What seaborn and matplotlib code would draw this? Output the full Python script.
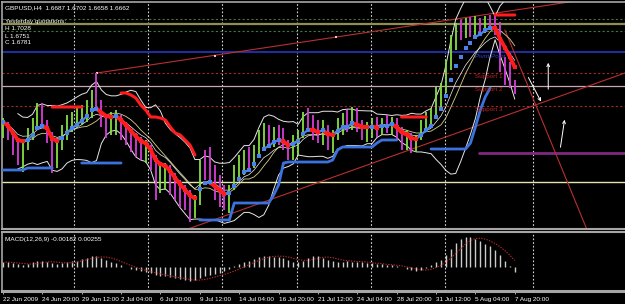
import numpy as np
import pandas as pd
import matplotlib
matplotlib.use("Agg")
import matplotlib.pyplot as plt
import seaborn as sns

N_ = np.nan

# ---------------- data ----------------
tick_labels = ["22 Jun 2009", "24 Jun 20:00", "29 Jun 12:00", "2 Jul 04:00", "6 Jul 20:00",
               "9 Jul 12:00", "14 Jul 04:00", "16 Jul 20:00", "21 Jul 12:00", "24 Jul 04:00",
               "28 Jul 20:00", "31 Jul 12:00", "5 Aug 04:00", "7 Aug 20:00"]
tick_bars = [0, 8, 16, 24, 32, 40, 48, 56, 64, 72, 80, 88, 96, 104]

first_open = 1.6450
bar_high = [1.6540, 1.6520, 1.6465, 1.6430, 1.6420, 1.6490, 1.6540, 1.6615, 1.6615, 1.6530,
            1.6470, 1.6430, 1.6505, 1.6555, 1.6570, 1.6590, 1.6605, 1.6630, 1.6680, 1.6765,
            1.6630, 1.6555, 1.6570, 1.6580, 1.6555, 1.6520, 1.6480, 1.6465, 1.6445, 1.6430,
            1.6405, 1.6355, 1.6305, 1.6315, 1.6305, 1.6265, 1.6230, 1.6205, 1.6180, 1.6155,
            1.6330, 1.6380, 1.6395, 1.6305, 1.6255, 1.6205, 1.6205, 1.6305, 1.6355, 1.6380,
            1.6395, 1.6405, 1.6480, 1.6515, 1.6505, 1.6495, 1.6505, 1.6490, 1.6430, 1.6455,
            1.6480, 1.6570, 1.6590, 1.6555, 1.6530, 1.6530, 1.6505, 1.6480, 1.6540, 1.6565,
            1.6580, 1.6595, 1.6590, 1.6530, 1.6520, 1.6540, 1.6545, 1.6540, 1.6555, 1.6545,
            1.6540, 1.6495, 1.6480, 1.6465, 1.6455, 1.6530, 1.6570, 1.6590, 1.6695, 1.6715,
            1.6830, 1.6955, 1.7015, 1.7030, 1.7040, 1.7045, 1.7050, 1.7040, 1.7050, 1.7055,
            1.7050, 1.7020, 1.6845, 1.6820, 1.6730]
bar_low = [1.6440, 1.6430, 1.6355, 1.6305, 1.6270, 1.6380, 1.6430, 1.6480, 1.6490, 1.6415,
           1.6265, 1.6290, 1.6380, 1.6430, 1.6470, 1.6490, 1.6505, 1.6520, 1.6540, 1.6580,
           1.6495, 1.6440, 1.6455, 1.6455, 1.6430, 1.6405, 1.6370, 1.6345, 1.6330, 1.6315,
           1.6280, 1.6130, 1.6165, 1.6180, 1.6155, 1.6130, 1.6095, 1.6080, 1.6020, 1.6040,
           1.6105, 1.6230, 1.6205, 1.6130, 1.6095, 1.6080, 1.6065, 1.6180, 1.6230, 1.6255,
           1.6280, 1.6290, 1.6355, 1.6380, 1.6390, 1.6395, 1.6405, 1.6380, 1.6330, 1.6330,
           1.6355, 1.6440, 1.6480, 1.6430, 1.6415, 1.6405, 1.6380, 1.6365, 1.6430, 1.6455,
           1.6470, 1.6480, 1.6470, 1.6430, 1.6420, 1.6440, 1.6445, 1.6455, 1.6465, 1.6455,
           1.6430, 1.6380, 1.6380, 1.6365, 1.6370, 1.6430, 1.6480, 1.6490, 1.6540, 1.6580,
           1.6665, 1.6780, 1.6880, 1.6930, 1.6940, 1.6945, 1.6955, 1.6955, 1.6965, 1.6980,
           1.6955, 1.6770, 1.6705, 1.6690, 1.6658]
bar_close = [1.6520, 1.6455, 1.6380, 1.6340, 1.6405, 1.6455, 1.6505, 1.6580, 1.6530, 1.6455,
             1.6305, 1.6405, 1.6480, 1.6530, 1.6540, 1.6555, 1.6570, 1.6605, 1.6655, 1.6605,
             1.6520, 1.6505, 1.6540, 1.6555, 1.6480, 1.6440, 1.6405, 1.6380, 1.6370, 1.6380,
             1.6305, 1.6205, 1.6255, 1.6280, 1.6205, 1.6155, 1.6130, 1.6115, 1.6080, 1.6105,
             1.6305, 1.6280, 1.6230, 1.6155, 1.6130, 1.6105, 1.6180, 1.6280, 1.6330, 1.6355,
             1.6305, 1.6380, 1.6455, 1.6480, 1.6430, 1.6470, 1.6455, 1.6405, 1.6355, 1.6430,
             1.6455, 1.6555, 1.6530, 1.6480, 1.6440, 1.6505, 1.6405, 1.6455, 1.6520, 1.6540,
             1.6505, 1.6555, 1.6490, 1.6470, 1.6490, 1.6505, 1.6480, 1.6520, 1.6505, 1.6530,
             1.6455, 1.6405, 1.6430, 1.6390, 1.6430, 1.6505, 1.6540, 1.6555, 1.6655, 1.6690,
             1.6805, 1.6930, 1.6980, 1.6955, 1.7005, 1.6980, 1.7020, 1.6990, 1.7030, 1.7020,
             1.6990, 1.6805, 1.6780, 1.6730, 1.6662]

trail_up = [1.6280, 1.6280, 1.6280, 1.6280, 1.6280, 1.6290, 1.6290, 1.6290, 1.6290, 1.6290,
            1.6290, N_, N_, N_, N_, N_, 1.6315, 1.6315, 1.6315, 1.6315,
            1.6315, 1.6315, 1.6315, 1.6315, 1.6315, N_, N_, N_, N_, N_,
            N_, N_, N_, N_, N_, N_, N_, N_, N_, N_,
            1.6030, 1.6030, 1.6030, 1.6030, 1.6030, 1.6030, 1.6030, 1.6115, 1.6115, 1.6115,
            1.6115, 1.6115, 1.6115, 1.6115, 1.6115, 1.6155, 1.6205, 1.6315, 1.6320, 1.6320,
            1.6320, 1.6320, 1.6320, 1.6320, 1.6320, 1.6320, 1.6320, 1.6330, 1.6380, 1.6395,
            1.6395, 1.6395, 1.6395, 1.6395, 1.6395, 1.6395, 1.6415, 1.6430, 1.6430, 1.6430,
            1.6430, N_, N_, N_, N_, N_, N_, 1.6385, 1.6385, 1.6385,
            1.6385, 1.6385, 1.6385, 1.6385, 1.6385, 1.6415, 1.6495, 1.6580, 1.6645, 1.6690,
            N_, N_, N_, N_, N_]
trail_dn = [N_, N_, N_, N_, N_, N_, N_, N_, N_, N_,
            1.6595, 1.6595, 1.6595, 1.6595, 1.6595, 1.6595, 1.6595, N_, N_, N_,
            N_, N_, N_, N_, 1.6665, 1.6665, 1.6655, 1.6640, 1.6605, 1.6580,
            1.6545, 1.6545, 1.6540, 1.6530, 1.6495, 1.6465, 1.6455, 1.6430, 1.6405, 1.6355,
            N_, N_, N_, N_, N_, N_, N_, N_, N_, N_,
            N_, N_, N_, N_, N_, N_, N_, N_, N_, N_,
            N_, N_, N_, N_, N_, N_, N_, N_, N_, N_,
            N_, N_, N_, N_, N_, N_, N_, N_, N_, N_,
            N_, 1.6545, 1.6545, 1.6545, 1.6545, 1.6545, 1.6545, N_, N_, N_,
            N_, N_, N_, N_, N_, N_, N_, N_, N_, N_,
            1.7055, 1.7055, 1.7055, 1.7055, 1.7055]

macd_main = [0.00225, 0.0027, 0.0018, 0.00135, 0.0009, 0.00135, 0.00225, 0.00315, 0.00315, 0.0027,
             0.0018, 0.00135, 0.0018, 0.0027, 0.00315, 0.00315, 0.00405, 0.0045, 0.0054, 0.0054,
             0.0045, 0.0036, 0.0027, 0.0018, 0.0009, 0.0, -0.0009, -0.00135, -0.0018, -0.00225,
             -0.0027, -0.0036, -0.00405, -0.00405, -0.0045, -0.00495, -0.0054, -0.00585, -0.0063, -0.00585,
             -0.00495, -0.00405, -0.0036, -0.00315, -0.0027, -0.0018, -0.0009, 0.00045, 0.00135, 0.00225,
             0.00315, 0.00405, 0.00495, 0.0054, 0.0054, 0.00495, 0.00495, 0.0045, 0.0036, 0.0027,
             0.00225, 0.00315, 0.0045, 0.0054, 0.0054, 0.0045, 0.0036, 0.00315, 0.0027, 0.0027,
             0.00315, 0.0027, 0.00225, 0.00225, 0.0018, 0.0018, 0.00135, 0.00135, 0.0009, 0.0009,
             0.00045, 0.0, -0.0009, -0.00135, -0.0018, -0.00135, -0.00045, 0.0009, 0.00225, 0.0036,
             0.00585, 0.00855, 0.01125, 0.01305, 0.01395, 0.01395, 0.01305, 0.01215, 0.0108, 0.0099,
             0.0081, 0.00585, 0.00315, 0.00045, -0.00182]

level_price = [1.7035, 1.7010, 1.6975, 1.6870, 1.6765, 1.6700, 1.6600, 1.6220]
level_color = ["#56664a", "#8c9150", "#3f7a34", "#1f2fa8", "#a02a2a", "#c8a8ae", "#a02a2a", "#e4e4ae"]
level_dotted = [True, False, True, False, True, False, True, False]
level_width = [0.8, 1.6, 0.8, 1.4, 0.8, 0.9, 0.8, 1.0]
purple_price = 1.6365
purple_from_bar = 96.7

pivot_names = ["Pivot Point", "Support 1", "Support 2", "Support 3"]
pivot_name_price = [1.6862, 1.6762, 1.6697, 1.6597]
pivot_name_color = ["#3444c8", "#b82424", "#b82424", "#b82424"]
pivot_name_bar = 95.9

trend_x = [[19.1, 126.4], [37.6, 126.4], [102.0, 118.7]]
trend_y = [[1.6765, 1.7162], [1.5985, 1.6765], [1.6980, 1.5980]]
anchor_x = [19.1, 43.1, 67.7]
anchor_y = [1.6765, 1.6850, 1.6945]

arrow_from = [(106.5, 1.6755), (110.8, 1.6670), (113.2, 1.6380)]
arrow_to = [(109.6, 1.6610), (110.8, 1.6830), (114.2, 1.6545)]

grid_bars = [14.4, 29.5, 44.5, 59.8, 74.8, 89.8, 107.7]

# ---------------- style ----------------
sns.set_theme(style="dark")
plt.rcParams['font.family'] = ['Liberation Sans', 'DejaVu Sans']

GREEN = "#84de42"
MAGENTA = "#d63ed6"
RED = "#ff1c1c"
BLUE = "#4a82ea"
GRAY = "#a6a6a6"

fig = plt.figure(figsize=(6.25, 3.04), dpi=100, facecolor="black")
ax = fig.add_axes([2 / 625, 1 - 229 / 304, 623 / 625, 227 / 304])
axm = fig.add_axes([2 / 625, 1 - 291 / 304, 623 / 625, 59 / 304])

for a in (ax, axm):
    a.set_facecolor("black")
    a.grid(False)
    for s in a.spines.values():
        s.set_visible(True)
        s.set_color(GRAY)
    a.spines["right"].set_visible(False)
    a.set_xlim(-0.2, 126.4)
    a.set_yticks([])
    for g in grid_bars:
        a.axvline(g, color="#d8d8d8", lw=0.8, ls=(0, (1.5, 1.8)), zorder=1)

ax.spines["top"].set_linewidth(1.2)
ax.spines["left"].set_linewidth(1.2)
ax.spines["bottom"].set_linewidth(1.5)
axm.spines["top"].set_linewidth(1.5)
axm.spines["bottom"].set_linewidth(2.2)
axm.spines["left"].set_linewidth(1.2)

ax.set_ylim(1.5985, 1.7120)
ax.set_xticks([])

# ---------------- main panel ----------------
idx = np.arange(len(bar_close))
close = np.array(bar_close)
opens = np.r_[first_open, close[:-1]]
hi = np.array(bar_high)
lo = np.array(bar_low)

# horizontal levels
for p, c, d, w in zip(level_price, level_color, level_dotted, level_width):
    ax.axhline(p, color=c, lw=w, ls=(0, (2, 2)) if d else "-", zorder=1.5)
ax.plot([purple_from_bar, 126.4], [purple_price, purple_price], color="#7e2a80", lw=2.0, zorder=1.5)

# trend lines
for tx, ty in zip(trend_x, trend_y):
    ax.plot(tx, ty, color="#b83030", lw=0.8, zorder=2)
ax.scatter(anchor_x, anchor_y, marker="s", s=4, color="#ffc0c0", zorder=2.5, linewidths=0)

# bollinger bands and averages (derived from closes)
s = pd.Series(close)
mid = s.rolling(10, min_periods=4).mean()
sd = s.rolling(10, min_periods=4).std(ddof=0)
ema10 = s.ewm(span=10, adjust=False).mean()
df = pd.DataFrame({"bar": idx, "upper": mid + 2 * sd, "lower": mid - 2 * sd,
                   "mid": mid, "ema": ema10})
sns.lineplot(data=df, x="bar", y="upper", ax=ax, color="#e6e6e6", lw=0.7, zorder=3, estimator=None)
sns.lineplot(data=df, x="bar", y="lower", ax=ax, color="#e6e6e6", lw=0.7, zorder=3, estimator=None)
sns.lineplot(data=df, x="bar", y="mid", ax=ax, color="#d8d08a", lw=0.6, zorder=3, estimator=None)
sns.lineplot(data=df, x="bar", y="ema", ax=ax, color="#f0f0f0", lw=0.5, zorder=3, estimator=None)

# price bars
bull = close >= opens
ax.vlines(idx[bull], lo[bull], hi[bull], color=GREEN, lw=1.3, zorder=4)
ax.vlines(idx[~bull], lo[~bull], hi[~bull], color=MAGENTA, lw=1.3, zorder=4)

# wide trailing stops
ax.plot(idx, trail_up, color="#3c72de", lw=2.0, zorder=5)
ax.plot(idx, trail_dn, color=RED, lw=2.2, zorder=5)

# slope-coloured moving average
ma = s.ewm(span=6, adjust=False).mean().to_numpy()
rising = np.r_[True, ma[1:] >= ma[:-1]]
for k in range(1, len(ma)):
    if not rising[k]:
        ax.plot([k - 1, k], [ma[k - 1], ma[k]], color=RED, lw=2.8,
                solid_capstyle="round", zorder=6)
    elif abs(ma[k] - ma[k - 1]) < 0.0025:
        ax.plot([k - 1, k], [ma[k - 1], ma[k]], color=BLUE, lw=1.6,
                solid_capstyle="butt", zorder=6)
sns.scatterplot(x=idx[rising], y=ma[rising], ax=ax, marker="s", s=11, color=BLUE,
                linewidth=0, zorder=6)
sns.scatterplot(x=idx[~rising], y=ma[~rising], ax=ax, marker="s", s=9, color=RED,
                linewidth=0, zorder=6)
ax.set_xlabel("")
ax.set_ylabel("")

# pivot labels
for name, p, c in zip(pivot_names, pivot_name_price, pivot_name_color):
    ax.text(pivot_name_bar, p, name, color=c, fontsize=4.6, va="top", ha="left", zorder=7)

# white arrows
for (x0, y0), (x1, y1) in zip(arrow_from, arrow_to):
    ax.annotate("", xy=(x1, y1), xytext=(x0, y0),
                arrowprops=dict(arrowstyle="->", color="white", lw=0.7,
                                mutation_scale=5), zorder=7)

# info text
txt = dict(color="white", fontsize=4.6, ha="left", va="center")
fig.text(5 / 625, 1 - 8 / 304, "GBPUSD,H4  1.6687 1.6702 1.6658 1.6662", **txt)
fig.text(5 / 625, 1 - 22 / 304, "Yesterday quotations:", **txt)
fig.text(5 / 625, 1 - 29 / 304, "H 1.7028", **txt)
fig.text(5 / 625, 1 - 36 / 304, "L 1.6751", **txt)
fig.text(5 / 625, 1 - 43 / 304, "C 1.6781", **txt)

# ---------------- MACD panel ----------------
macd = np.array(macd_main)
signal = pd.Series(macd).rolling(5, min_periods=1).mean()
axm.vlines(idx, 0, macd, color="#cccccc", lw=1.0, zorder=3)
sns.lineplot(x=idx, y=signal.to_numpy(), ax=axm, color="#b42a2a", lw=0.8,
             linestyle=(0, (1.2, 1.2)), zorder=4, estimator=None)
axm.set_ylim(-0.0106, 0.0160)
axm.set_xlabel("")
axm.set_ylabel("")
fig.text(5 / 625, 1 - 240 / 304, "MACD(12,26,9) -0.00182 0.00255", **txt)

axm.set_xticks(tick_bars)
axm.set_xticklabels(tick_labels, fontsize=4.6, color="white", ha="left")
axm.tick_params(axis="x", bottom=True, length=2.5, width=0.6, color="#c8c8c8",
                pad=1.5, direction="out")

fig.savefig("out.png", dpi=100, facecolor="black")
